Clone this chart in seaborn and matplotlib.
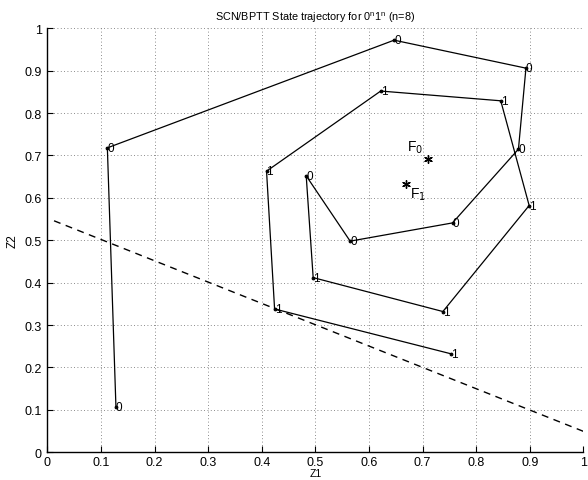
import matplotlib
matplotlib.use('Agg')
import matplotlib.pyplot as plt
import seaborn as sns
import pandas as pd

# trajectory points, in order, with the input symbol at each step
z1 = [0.128, 0.112, 0.647, 0.893, 0.879, 0.756, 0.565, 0.483,
      0.496, 0.738, 0.899, 0.846, 0.622, 0.409, 0.424, 0.754]
z2 = [0.107, 0.718, 0.972, 0.906, 0.715, 0.541, 0.498, 0.652,
      0.412, 0.332, 0.582, 0.829, 0.852, 0.663, 0.338, 0.232]
symbols = ["0"] * 8 + ["1"] * 8

# fixed points
fp_names = ["F$_0$", "F$_1$"]
fp_z1 = [0.711, 0.669]
fp_z2 = [0.692, 0.633]

# dashed separating line endpoints
sep_z1 = [0.0125, 1.0]
sep_z2 = [0.546, 0.0495]

ticks = [0, 0.1, 0.2, 0.3, 0.4, 0.5, 0.6, 0.7, 0.8, 0.9, 1]
tick_labels = ["0", "0.1", "0.2", "0.3", "0.4", "0.5", "0.6", "0.7", "0.8", "0.9", "1"]

traj = pd.DataFrame({"z1": z1, "z2": z2, "sym": symbols})
fps = pd.DataFrame({"z1": fp_z1, "z2": fp_z2, "name": fp_names})
sep = pd.DataFrame({"z1": sep_z1, "z2": sep_z2})

sns.set_style("white")
plt.rcParams['font.family'] = ['Liberation Sans', 'DejaVu Sans']
plt.rcParams['text.color'] = 'k'
plt.rcParams['axes.labelcolor'] = 'k'
plt.rcParams['xtick.color'] = 'k'
plt.rcParams['ytick.color'] = 'k'

fig = plt.figure(figsize=(5.88, 4.81), dpi=100)
ax = fig.add_axes([0.0805, 0.0576, 0.9115, 0.8815])

sns.lineplot(x="z1", y="z2", data=traj, sort=False, color="k", lw=0.9,
             marker=".", markersize=4, markeredgecolor="k", ax=ax)
for i, row in traj.iterrows():
    ax.text(row.z1, row.z2, row.sym, ha="left", va="center", fontsize=8.5)

sns.lineplot(x="z1", y="z2", data=sep, sort=False, color="k", lw=1.0,
             linestyle=(0, (5, 4)), ax=ax)

sns.scatterplot(x="z1", y="z2", data=fps, marker=(6, 2, 0), s=30,
                color="k", linewidth=1.0, ax=ax)
ax.text(fp_z1[0] - 0.01, fp_z2[0] + 0.008, fp_names[0], ha="right",
        va="bottom", fontsize=10)
ax.text(fp_z1[1] + 0.008, fp_z2[1] - 0.005, fp_names[1], ha="left",
        va="top", fontsize=10)

ax.set_xlim(0, 1)
ax.set_ylim(0, 1)
ax.set_xticks(ticks)
ax.set_yticks(ticks)
ax.set_xticklabels(tick_labels)
ax.set_yticklabels(tick_labels)
ax.tick_params(direction="in", length=4, width=0.8, labelsize=9, pad=4,
               bottom=True, left=True)
ax.tick_params(axis="x", pad=3)
ax.grid(True, linestyle=(0, (1, 3)), color="#666666", lw=0.6)
for s in ["top", "right"]:
    ax.spines[s].set_visible(False)
for s in ["left", "bottom"]:
    ax.spines[s].set_color("k")
    ax.spines[s].set_linewidth(1.0)

ax.set_xlabel("Z1", fontsize=7.5, labelpad=0)
ax.set_ylabel("Z2", fontsize=8.5, labelpad=4)
ax.set_title("SCN/BPTT State trajectory for 0$^\\mathregular{n}$1$^\\mathregular{n}$ (n=8)",
             fontsize=7.8, pad=6)

plt.savefig("out.png", dpi=100)
plt.close()
